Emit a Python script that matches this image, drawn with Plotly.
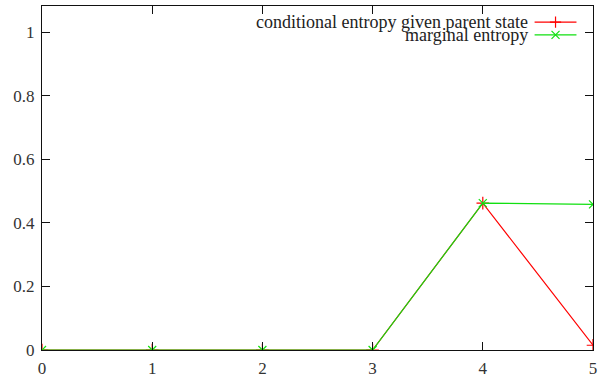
import plotly.graph_objects as go

x_vals = [0, 1, 2, 3, 4, 5]
cond_entropy = [0, 0, 0, 0, 0.462, 0.015]
marg_entropy = [0, 0, 0, 0, 0.462, 0.458]
series_names = ["conditional entropy given parent state", "marginal entropy"]
x_ticks = [0, 1, 2, 3, 4, 5]
y_ticks = [0, 0.2, 0.4, 0.6, 0.8, 1]
y_tick_labels = ["0", "0.2", "0.4", "0.6", "0.8", "1"]

RED = "#ff0000"
GREEN = "#11e011"
FONT = "Liberation Serif, Times New Roman, serif"

fig = go.Figure()
fig.add_trace(go.Scatter(x=x_vals, y=cond_entropy, mode="lines+markers",
                         line=dict(color=RED, width=1.2),
                         marker=dict(symbol="cross-thin", size=9, line=dict(color=RED, width=1.2)),
                         showlegend=False))
fig.add_trace(go.Scatter(x=x_vals, y=marg_entropy, mode="lines+markers",
                         line=dict(color=GREEN, width=1.2),
                         marker=dict(symbol="x-thin", size=8, line=dict(color=GREEN, width=1.2)),
                         showlegend=False))

# custom gnuplot-style legend (text right, sample on right)
leg_y = [0.953, 0.916]
for name, col, sym, yy in zip(series_names, [RED, GREEN], ["cross-thin", "x-thin"], leg_y):
    fig.add_annotation(xref="paper", yref="paper", x=0.886, y=yy, text=name,
                       showarrow=False, xanchor="right", yanchor="middle",
                       font=dict(family=FONT, size=18, color="#222222"))
    fig.add_trace(go.Scatter(x=[0.894, 0.970], y=[yy, yy], xaxis="x2", yaxis="y2",
                             mode="lines", line=dict(color=col, width=1.2),
                             showlegend=False, hoverinfo="skip"))
    fig.add_trace(go.Scatter(x=[0.932], y=[yy], xaxis="x2", yaxis="y2",
                             mode="markers", marker=dict(symbol=sym, size=8, line=dict(color=col, width=1.2)),
                             showlegend=False, hoverinfo="skip"))

axis_common = dict(showgrid=False, zeroline=False, showline=True, linecolor="#111111",
                   linewidth=1.3, mirror="allticks", ticks="inside", ticklen=8,
                   tickcolor="#111111", tickwidth=1, ticklabeloverflow="allow",
                   tickfont=dict(family=FONT, size=17, color="#333333"))

fig.update_layout(
    width=601, height=387,
    margin=dict(l=42, r=4, t=6, b=37),
    paper_bgcolor="white", plot_bgcolor="white",
    xaxis=dict(range=[0, 5], tickvals=x_ticks, ticktext=[str(t) for t in x_ticks],
               ticklabelstandoff=2, **axis_common),
    yaxis=dict(range=[0, 1.082], tickvals=y_ticks, ticktext=y_tick_labels,
               ticklabelstandoff=3, **axis_common),
    xaxis2=dict(range=[0, 1], overlaying="x", visible=False),
    yaxis2=dict(range=[0, 1], overlaying="y", visible=False),
)

fig.write_html("out.html")
